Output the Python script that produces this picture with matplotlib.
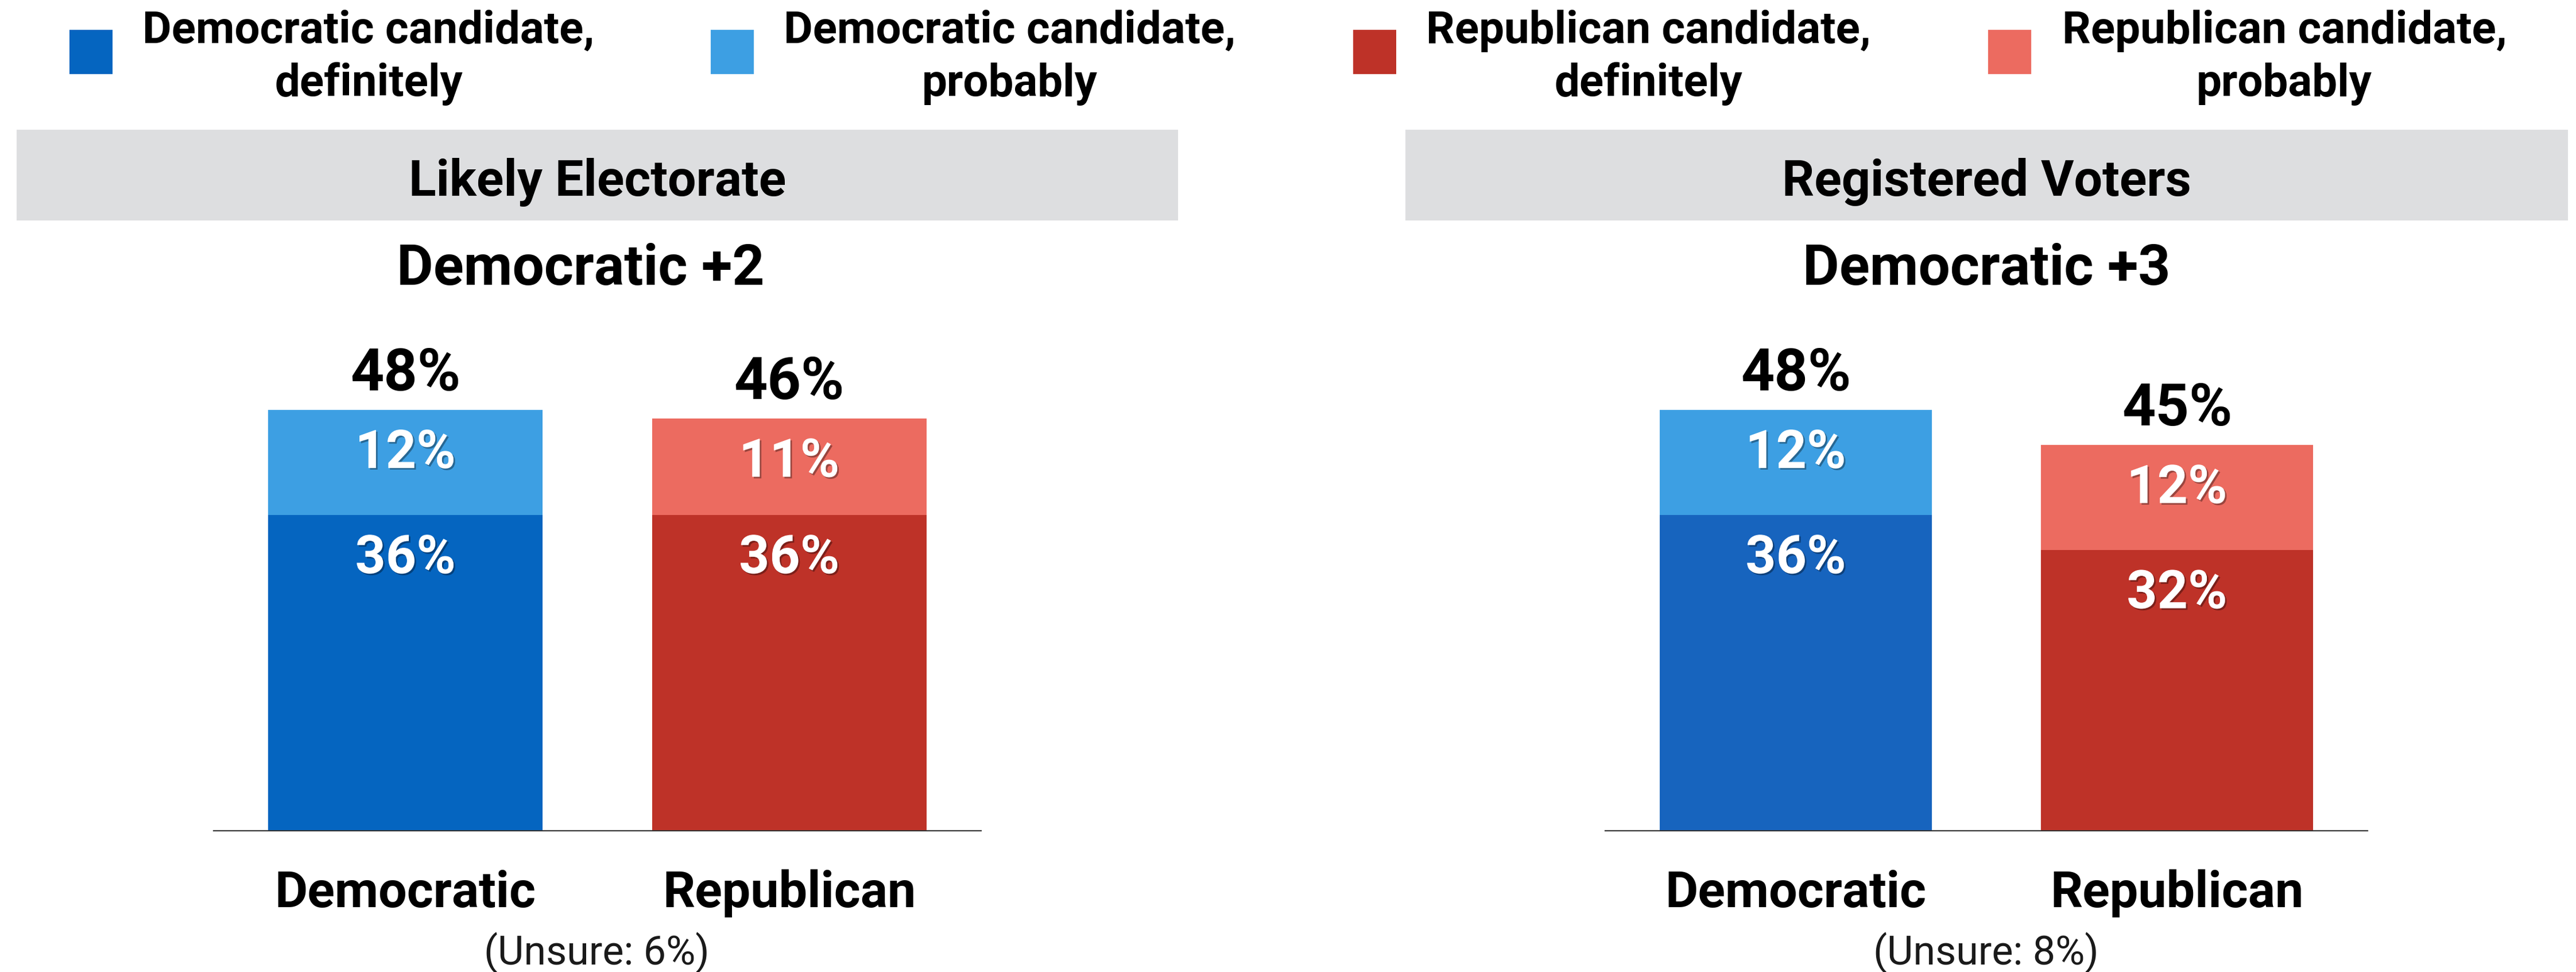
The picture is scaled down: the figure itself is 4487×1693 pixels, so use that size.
import matplotlib
matplotlib.use("Agg")
import matplotlib.pyplot as plt
import matplotlib.patheffects as pe
from matplotlib.patches import Rectangle
import matplotlib.transforms as mtransforms

# ---------------- data ----------------
panel_titles = ["Likely Electorate", "Registered Voters"]
margin_titles = ["Democratic +2", "Democratic +3"]
categories = ["Democratic", "Republican"]
definitely_le = [36, 36]
probably_le = [12, 11]
total_le = [48, 46]
definitely_rv = [36, 32]
probably_rv = [12, 12]
total_rv = [48, 45]
unsure = [6, 8]
legend_labels = [("Democratic candidate,", "definitely"),
                 ("Democratic candidate,", "probably"),
                 ("Republican candidate,", "definitely"),
                 ("Republican candidate,", "probably")]

# ---------------- style ----------------
W, H, DPI = 4487, 1693, 100
FONT = "Roboto"
plt.rcParams['font.family'] = [FONT, 'DejaVu Sans']

col_dem_def = ["#0565C0", "#1764BE"]
col_dem_prob = "#3D9FE3"
col_rep_def = "#BE3228"
col_rep_prob = "#EC6B60"
legend_colors = [col_dem_def[0], col_dem_prob, col_rep_def, col_rep_prob]
header_gray = "#DDDEE0"

def fx(px):
    return px / W

def fy(py):
    return 1 - py / H

def pt(px):
    return px * 72.0 / DPI

fig = plt.figure(figsize=(W / DPI, H / DPI), dpi=DPI)
fig.patch.set_facecolor("white")

# ---------------- legend ----------------
sq_x = [121, 1238, 2357, 3463]
txt_cx = [642, 1759, 2871, 3979]
for i, (l1, l2) in enumerate(legend_labels):
    fig.patches.append(Rectangle((fx(sq_x[i]), fy(129)), 75 / W, 77 / H,
                                 transform=fig.transFigure, facecolor=legend_colors[i],
                                 edgecolor="none"))
    fig.text(fx(txt_cx[i]), fy(75), l1, ha="center", va="baseline",
             fontsize=pt(78), fontweight="bold", color="black")
    fig.text(fx(txt_cx[i]), fy(167), l2, ha="center", va="baseline",
             fontsize=pt(78), fontweight="bold", color="black")

# ---------------- panels ----------------
ax_left_px = [372, 2796]
ax_right_px = [1709, 4124]
hdr_x = [(29, 2052), (2448, 4473)]
margin_cx = [1011, 3460]
baseline_px = 1447
top_px = 531

panel_def = [definitely_le, definitely_rv]
panel_prob = [probably_le, probably_rv]
panel_tot = [total_le, total_rv]

shadow = [pe.withSimplePatchShadow(offset=(2, -2), shadow_rgbFace="#000000", alpha=0.35)]

for p in range(2):
    # header box
    x0, x1 = hdr_x[p]
    fig.patches.append(Rectangle((fx(x0), fy(384)), (x1 - x0) / W, (384 - 226) / H,
                                 transform=fig.transFigure, facecolor=header_gray,
                                 edgecolor="none"))
    fig.text(fx((x0 + x1) / 2), fy(341), panel_titles[p], ha="center", va="baseline",
             fontsize=pt(88), fontweight="bold", color="black")
    fig.text(fx(margin_cx[p]), fy(496), margin_titles[p], ha="center", va="baseline",
             fontsize=pt(98), fontweight="bold", color="black")

    ax = fig.add_axes([fx(ax_left_px[p]), 1 - baseline_px / H,
                       (ax_right_px[p] - ax_left_px[p]) / W, (baseline_px - top_px) / H])
    ax.set_xlim(-0.5, 1.5)
    ax.set_ylim(0, 60)
    xs = [0, 1]
    defs = panel_def[p]
    probs = panel_prob[p]
    tots = panel_tot[p]
    def_colors = [col_dem_def[p], col_rep_def]
    prob_colors = [col_dem_prob, col_rep_prob]
    ax.bar(xs, defs, width=0.715, color=def_colors, edgecolor="none", zorder=2)
    ax.bar(xs, probs, bottom=defs, width=0.715, color=prob_colors, edgecolor="none", zorder=2)

    trans = mtransforms.blended_transform_factory(ax.transData, fig.transFigure)
    for i in range(2):
        # inner labels
        ax.annotate(f"{defs[i]}%", (xs[i], defs[i]), xytext=(0, -pt(101)),
                    textcoords="offset points", ha="center", va="baseline",
                    fontsize=pt(93), fontweight="bold", color="white",
                    path_effects=shadow, zorder=5)
        ax.annotate(f"{probs[i]}%", (xs[i], defs[i] + probs[i]), xytext=(0, -pt(101)),
                    textcoords="offset points", ha="center", va="baseline",
                    fontsize=pt(93), fontweight="bold", color="white",
                    path_effects=shadow, zorder=5)
        # totals
        ax.annotate(f"{tots[i]}%", (xs[i], defs[i] + probs[i]), xytext=(0, pt(34)),
                    textcoords="offset points", ha="center", va="baseline",
                    fontsize=pt(102), fontweight="bold", color="black",
                    annotation_clip=False, zorder=5)
        # category labels
        fig.text(xs[i], fy(1580), categories[i], transform=trans, ha="center",
                 va="baseline", fontsize=pt(88), fontweight="bold", color="black")

    fig.text(fx((ax_left_px[p] + ax_right_px[p]) / 2 - 1), fy(1680),
             f"(Unsure: {unsure[p]}%)", ha="center", va="baseline",
             fontsize=pt(70), fontweight="normal", color="#1a1a1a")

    for s in ["top", "left", "right"]:
        ax.spines[s].set_visible(False)
    ax.spines["bottom"].set_color("#333333")
    ax.spines["bottom"].set_linewidth(1.5)
    ax.set_xticks([])
    ax.set_yticks([])
    ax.patch.set_alpha(0)

fig.savefig("out.png", dpi=DPI, facecolor="white")
